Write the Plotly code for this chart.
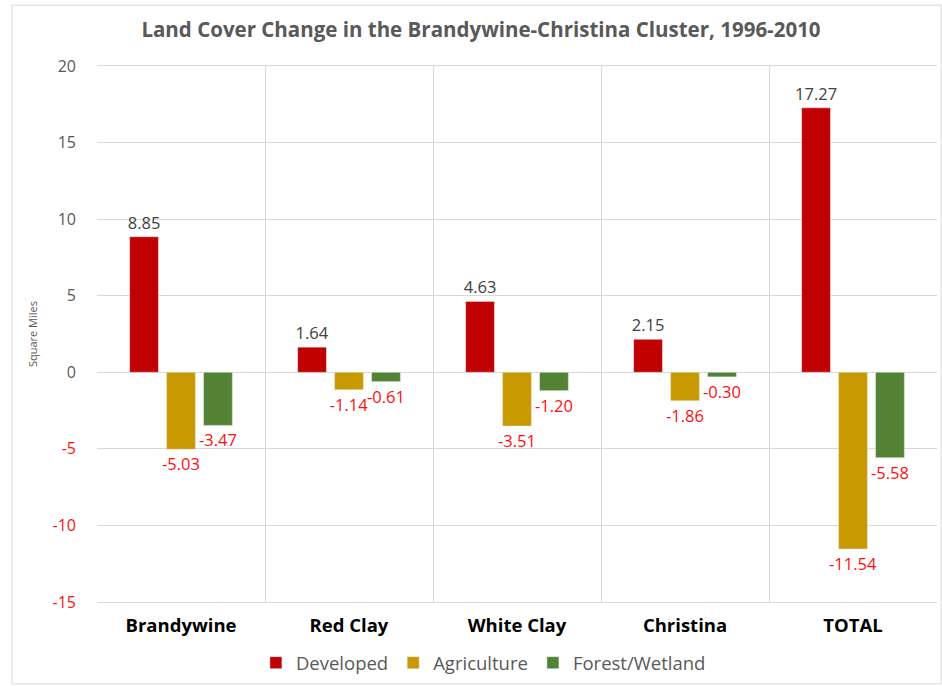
import plotly.graph_objects as go

categories = ["Brandywine", "Red Clay", "White Clay", "Christina", "TOTAL"]
developed = [8.85, 1.64, 4.63, 2.15, 17.27]
agriculture = [-5.03, -1.14, -3.51, -1.86, -11.54]
forest = [-3.47, -0.61, -1.20, -0.30, -5.58]
y_ticks = [-15, -10, -5, 0, 5, 10, 15, 20]

series = [
    ("Developed", developed, "#C00000"),
    ("Agriculture", agriculture, "#C99A00"),
    ("Forest/Wetland", forest, "#548235"),
]

POS_COLOR = "#404040"
NEG_COLOR = "#FF1010"
FONT = "Open Sans"

fig = go.Figure()
for name, vals, col in series:
    fig.add_trace(go.Bar(
        name=name, x=categories, y=vals, marker_color=col,
        text=[f"{v:.2f}" for v in vals],
        textposition="outside",
        textfont=dict(family=FONT, size=16.5,
                      color=[POS_COLOR if v >= 0 else NEG_COLOR for v in vals]),
        constraintext="none", cliponaxis=False,
    ))

ticktext = [
    (f"<span style='color:{NEG_COLOR}'>{t}</span>" if t < 0 else str(t))
    for t in y_ticks
]

fig.update_layout(
    width=942, height=686,
    margin=dict(l=97, r=5, t=66, b=83),
    paper_bgcolor="white", plot_bgcolor="white",
    barmode="group", bargap=0.34, bargroupgap=0.22,
    title=dict(text="<b>Land Cover Change in the Brandywine-Christina Cluster, 1996-2010</b>",
               x=481 / 942, xanchor="center", y=1 - 30 / 686, yanchor="middle",
               font=dict(family=FONT, size=20.5, color="#595959")),
    font=dict(family=FONT, color="#595959"),
    showlegend=True,
    legend=dict(orientation="h", x=0.46, xanchor="center", y=-0.112, yanchor="middle",
                font=dict(family=FONT, size=18.5, color="#595959"), itemwidth=30),
    xaxis=dict(tickson="boundaries", showgrid=True, gridcolor="#D9D9D9", gridwidth=1,
               showline=True, linecolor="#D9D9D9", mirror=True, ticks="",
               tickfont=dict(family=FONT, size=18.5, color="#000000", weight="bold"),
               ticklabelstandoff=7),
    yaxis=dict(range=[-15, 20], tickvals=y_ticks, ticktext=ticktext,
               showgrid=True, gridcolor="#D9D9D9", gridwidth=1,
               zeroline=True, zerolinecolor="#D9D9D9", zerolinewidth=1,
               showline=False, ticks="", ticklabelstandoff=20,
               tickfont=dict(family=FONT, size=16, color="#595959"),
               title=dict(text="Square Miles", font=dict(family=FONT, size=11, color="#595959"),
                          standoff=12)),
    shapes=[dict(type="rect", xref="paper", yref="paper",
                 x0=(12 - 97) / 840, x1=(941 - 97) / 840,
                 y0=(603 - 685) / 537, y1=(603 - 5) / 537,
                 line=dict(color="#D9D9D9", width=1), fillcolor="rgba(0,0,0,0)",
                 layer="below")],
)

fig.write_html("out.html")
